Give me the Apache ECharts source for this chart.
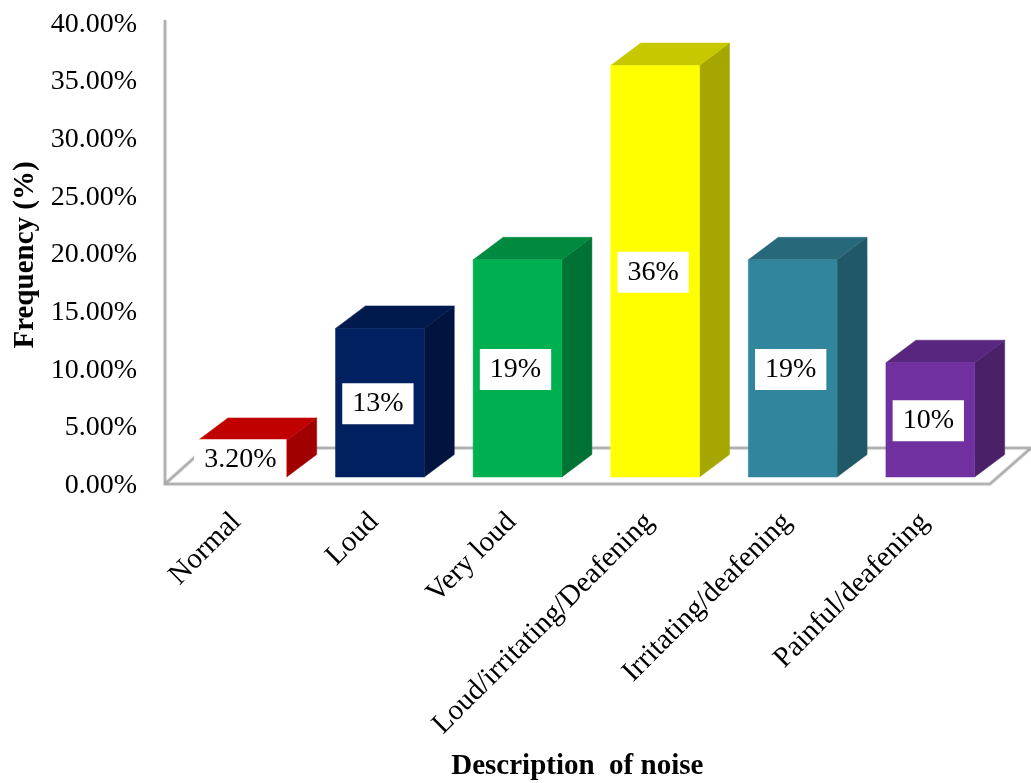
<!DOCTYPE html>
<html>
<head>
<meta charset="utf-8">
<style>html,body{margin:0;padding:0;background:#fff}#chart{width:1031px;height:783px}</style>
<script src="https://cdn.jsdelivr.net/npm/echarts@6/dist/echarts.min.js"></script>
</head>
<body>
<div id="chart"></div>
<script>
// Perceived noise levels, share of respondents per description
const categories = ['Normal', 'Loud', 'Very loud', 'Loud/irritating/Deafening', 'Irritating/deafening', 'Painful/deafening'];
const frequency = [3.2, 13, 19, 36, 19, 10];
const valueLabels = ['3.20%', '13%', '19%', '36%', '19%', '10%'];
const frontColors = ['#FF0000', '#002060', '#00B050', '#FFFF00', '#31859C', '#7030A0'];
const topColors = ['#C00000', '#001A4D', '#008A40', '#C8C800', '#27697B', '#58267E'];
const sideColors = ['#A00000', '#00143F', '#007233', '#A6A600', '#205867', '#4A2069'];

const SERIF = '"Liberation Serif", "Times New Roman", serif';
const DEPTH_X = 30, DEPTH_Y = 22.5, BAR_RATIO = 0.645;

function renderBar(params, api) {
  const i = api.value(0);
  const top = api.coord([i, api.value(1)]);
  const base = api.coord([i, 0]);
  const w = api.size([1, 0])[0] * BAR_RATIO;
  const l = top[0] - w / 2, r = top[0] + w / 2;
  const face = (points, fill) => ({
    type: 'polygon',
    shape: { points },
    style: { fill, stroke: fill, lineWidth: 0.5 }
  });
  return {
    type: 'group',
    children: [
      face([[r, top[1]], [r + DEPTH_X, top[1] - DEPTH_Y], [r + DEPTH_X, base[1] - DEPTH_Y], [r, base[1]]], sideColors[i]),
      face([[l, top[1]], [l + DEPTH_X, top[1] - DEPTH_Y], [r + DEPTH_X, top[1] - DEPTH_Y], [r, top[1]]], topColors[i]),
      face([[l, top[1]], [r, top[1]], [r, base[1]], [l, base[1]]], frontColors[i]),
      {
        type: 'text',
        z2: 10,
        style: {
          text: valueLabels[i],
          x: top[0] - 2,
          y: (top[1] + base[1]) / 2 + 1,
          align: 'center',
          verticalAlign: 'middle',
          fill: '#000',
          fontSize: 28,
          fontFamily: SERIF,
          backgroundColor: '#fff',
          padding: [7, 10, 6, 10]
        }
      }
    ]
  };
}

const chart = echarts.init(document.getElementById('chart'), null, { renderer: 'canvas' });
chart.setOption({
  animation: false,
  backgroundColor: '#fff',
  grid: [
    { outerBoundsMode: 'none', left: 165, width: 840, top: 24.5, height: 461 },
    { outerBoundsMode: 'none', left: 173.5, width: 825.6, top: 19.8, height: 457.2 }
  ],
  xAxis: [
    { gridIndex: 0, type: 'category', data: categories, show: false },
    {
      gridIndex: 1,
      type: 'category',
      data: categories,
      axisLine: { show: false },
      axisTick: { show: false },
      axisLabel: {
        interval: 0,
        rotate: 45,
        margin: 35,
        padding: [0, 8, 0, 0],
        color: '#000',
        fontSize: 29,
        fontFamily: SERIF
      },
      name: 'Description  of noise',
      nameLocation: 'middle',
      nameGap: 275,
      nameTextStyle: {
        color: '#000',
        fontSize: 29,
        fontWeight: 'bold',
        fontFamily: SERIF,
        padding: [0, 18, 0, 0]
      }
    }
  ],
  yAxis: [
    {
      gridIndex: 0,
      type: 'value',
      min: 0,
      max: 40,
      interval: 5,
      splitLine: { show: false },
      axisLine: { show: false },
      axisTick: { show: false },
      axisLabel: {
        margin: 28,
        color: '#000',
        fontSize: 28,
        fontFamily: SERIF,
        formatter: v => v.toFixed(2) + '%'
      },
      name: 'Frequency (%)',
      nameLocation: 'middle',
      nameGap: 125,
      nameTextStyle: {
        color: '#000',
        fontSize: 29,
        fontWeight: 'bold',
        fontFamily: SERIF
      }
    },
    {
      gridIndex: 1,
      type: 'value',
      min: 0,
      max: 40,
      interval: 5,
      show: false
    }
  ],
  // Side wall and floor of the pseudo-3D plot area
  graphic: [
    {
      type: 'polyline',
      z: 0,
      shape: { points: [[165, 20], [165, 484], [990, 484], [1031, 448]] },
      style: {
        fill: null,
        stroke: '#B0B0B0',
        lineWidth: 2.5,
        shadowColor: 'rgba(0,0,0,0.2)',
        shadowBlur: 2
      }
    },
    {
      type: 'polyline',
      z: 0,
      shape: { points: [[165, 484], [205, 448], [1031, 448]] },
      style: {
        fill: null,
        stroke: '#B0B0B0',
        lineWidth: 2.5,
        shadowColor: 'rgba(0,0,0,0.2)',
        shadowBlur: 2
      }
    }
  ],
  series: [
    {
      type: 'custom',
      xAxisIndex: 1,
      yAxisIndex: 1,
      clip: false,
      z: 5,
      renderItem: renderBar,
      encode: { x: 0, y: 1 },
      data: frequency.map((v, i) => [i, v])
    }
  ]
});
</script>
</body>
</html>
